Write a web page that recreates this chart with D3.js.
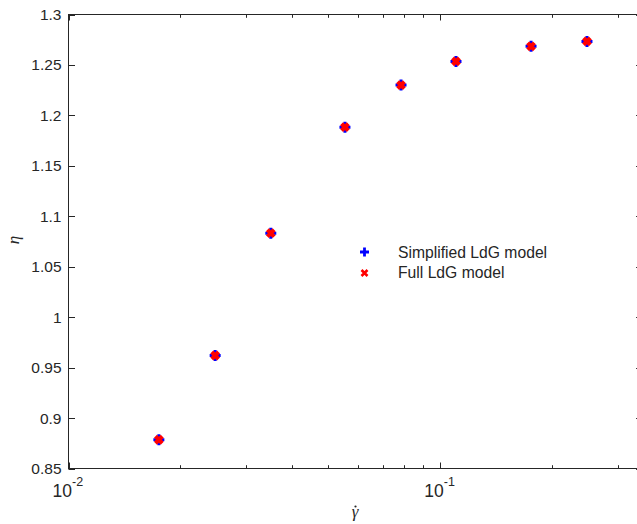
<!DOCTYPE html>
<html>
<head>
<meta charset="utf-8">
<script src="https://cdn.jsdelivr.net/npm/d3@7"></script>
<style>
  body { margin: 0; background: #fff; }
  svg { font-family: Arial, "Liberation Sans", sans-serif; }
</style>
</head>
<body>
<div id="chart"></div>
<script>
// data
var shearRate = [0.0175, 0.0248, 0.0350, 0.0554, 0.0784, 0.1102, 0.1754, 0.2480];
var etaSimplified = [0.8785, 0.9620, 1.0832, 1.1883, 1.2300, 1.2535, 1.2685, 1.2733];
var etaFull = [0.8785, 0.9620, 1.0832, 1.1883, 1.2300, 1.2535, 1.2685, 1.2733];
var yTicks = [0.85, 0.9, 0.95, 1, 1.05, 1.1, 1.15, 1.2, 1.25, 1.3];
var xMajor = [0.01, 0.1];
var xMinor = [0.02, 0.03, 0.04, 0.05, 0.06, 0.07, 0.08, 0.09, 0.2, 0.3];
var legendNames = ["Simplified LdG model", "Full LdG model"];

var W = 637, H = 524;
// plot box (right side falls just outside the window)
var pLeft = 68.5, pTop = 14.5, pBottom = 468.5, pRight = 642.6;
var ink = "#262626";

var svg = d3.select("#chart").append("svg")
	.attr("width", W)
	.attr("height", H);

var x = d3.scaleLog().domain([0.01, 0.35]).range([pLeft, pRight]);
var y = d3.scaleLinear().domain([0.85, 1.3]).range([pBottom, pTop]);

// box
svg.append("rect")
	.attr("x", pLeft).attr("y", pTop)
	.attr("width", pRight - pLeft).attr("height", pBottom - pTop)
	.attr("fill", "none").attr("stroke", ink).attr("stroke-width", 1);

// y ticks, left and right
var gy = svg.append("g");
yTicks.forEach(function(v){
	var yy = Math.round(y(v)) + 0.5;
	gy.append("line").attr("x1", pLeft).attr("x2", pLeft + 6.5)
		.attr("y1", yy).attr("y2", yy).attr("stroke", ink);
	gy.append("line").attr("x1", pRight).attr("x2", pRight - 6.5)
		.attr("y1", yy).attr("y2", yy).attr("stroke", ink);
	gy.append("text")
		.attr("x", pLeft - 7).attr("y", y(v) + 5.5)
		.attr("text-anchor", "end")
		.attr("font-size", 15.5).attr("fill", ink)
		.text(String(v));
});

// x ticks, bottom and top
var gx = svg.append("g");
xMajor.forEach(function(v){
	var xx = Math.round(x(v)) + 0.5;
	gx.append("line").attr("x1", xx).attr("x2", xx)
		.attr("y1", pBottom).attr("y2", pBottom - 6).attr("stroke", ink);
	gx.append("line").attr("x1", xx).attr("x2", xx)
		.attr("y1", pTop).attr("y2", pTop + 6).attr("stroke", ink);
	var t = gx.append("text")
		.attr("x", x(v) - 16).attr("y", 497)
		.attr("font-size", 17.5).attr("fill", ink);
	t.append("tspan").text("10");
	t.append("tspan").attr("dy", -11.5).attr("font-size", 12.5)
		.text(String(Math.round(Math.log10(v))));
});
xMinor.forEach(function(v){
	var xx = Math.round(x(v)) + 0.5;
	gx.append("line").attr("x1", xx).attr("x2", xx)
		.attr("y1", pBottom).attr("y2", pBottom - 3.3).attr("stroke", ink);
	gx.append("line").attr("x1", xx).attr("x2", xx)
		.attr("y1", pTop).attr("y2", pTop + 3.3).attr("stroke", ink);
});

// axis labels
svg.append("text")
	.attr("transform", "translate(19,240) rotate(-90)")
	.attr("text-anchor", "middle")
	.attr("font-size", 17).attr("font-style", "italic").attr("fill", ink)
	.attr("font-family", "'Liberation Serif', 'DejaVu Serif', serif")
	.text("\u03b7");
svg.append("text")
	.attr("x", 355).attr("y", 517)
	.attr("text-anchor", "middle")
	.attr("font-size", 17).attr("font-style", "italic").attr("fill", ink)
	.attr("font-family", "'Liberation Serif', 'DejaVu Serif', serif")
	.text("\u03b3");
svg.append("circle")
	.attr("cx", 355.5).attr("cy", 506.5).attr("r", 1.1).attr("fill", ink);

// markers
function plus(g, cx, cy, s, w){
	g.append("path")
		.attr("d", "M" + (cx - s) + "," + cy + "H" + (cx + s) + "M" + cx + "," + (cy - s) + "V" + (cy + s))
		.attr("stroke", "#0000ff").attr("stroke-width", w).attr("fill", "none");
}
function cross(g, cx, cy, s, w){
	g.append("path")
		.attr("d", "M" + (cx - s) + "," + (cy - s) + "L" + (cx + s) + "," + (cy + s) +
			"M" + (cx - s) + "," + (cy + s) + "L" + (cx + s) + "," + (cy - s))
		.attr("stroke", "#ff0000").attr("stroke-width", w).attr("fill", "none");
}

var marks = svg.append("g");
shearRate.forEach(function(v, i){
	plus(marks, x(v), y(etaSimplified[i]), 5.5, 3);
});
shearRate.forEach(function(v, i){
	cross(marks, x(v), y(etaFull[i]), 3.4, 4.2);
});

// legend
var lg = svg.append("g");
plus(lg, 364.5, 252, 4.5, 2.8);
cross(lg, 364.5, 273, 3, 2.6);
legendNames.forEach(function(name, i){
	lg.append("text")
		.attr("x", 398).attr("y", 258 + i * 20)
		.attr("font-size", 15.7).attr("fill", ink)
		.text(name);
});
</script>
</body>
</html>
